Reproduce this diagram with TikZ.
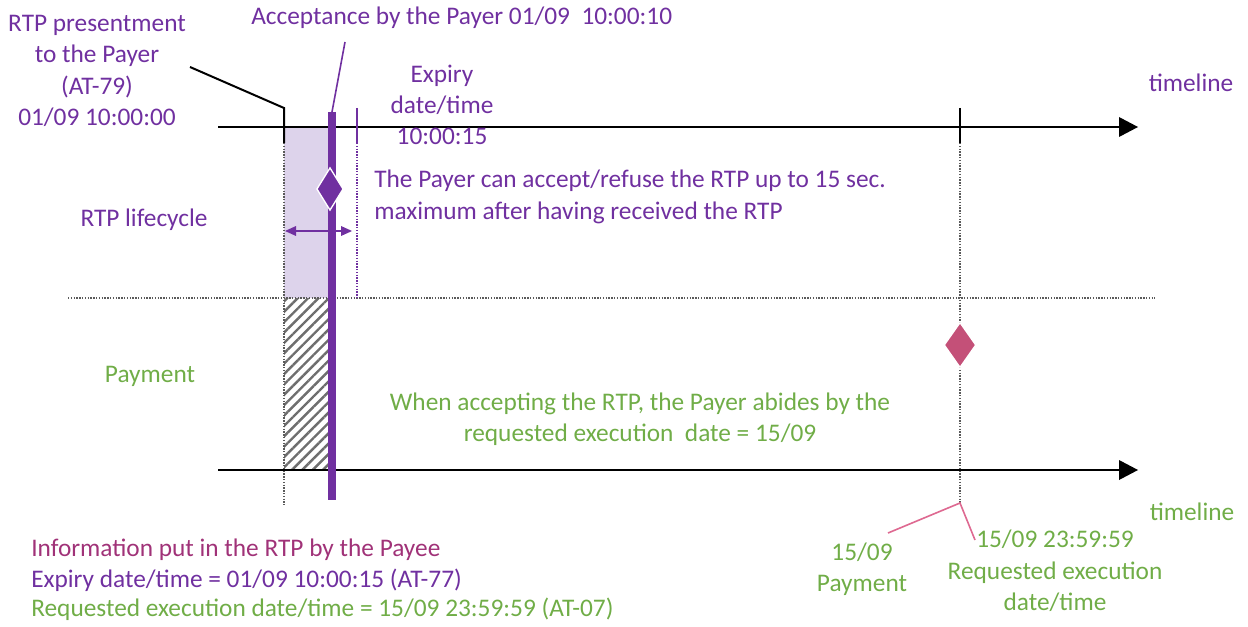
\documentclass[tikz,border=0pt]{standalone}
\usepackage{fontspec}
\setmainfont{Carlito}
\usetikzlibrary{patterns.meta}
\usetikzlibrary{shapes}

\begin{document}
\begin{tikzpicture}[x=0.75pt,y=0.75pt,yscale=-1,xscale=1,
  txt/.style={inner sep=0.75pt, align=center, font=\fontsize{19}{23.5}\selectfont},
  infotxt/.style={inner sep=0.75pt, anchor=west, font=\fontsize{19}{23.5}\selectfont},
  violet/.style={color={rgb, 255:red, 112; green, 48; blue, 160 }},
  leaf/.style={color={rgb, 255:red, 112; green, 173; blue, 71 }},
  plum/.style={color={rgb, 255:red, 160; green, 50; blue, 120 }},
  gridline/.style={color={rgb, 255:red, 90; green, 90; blue, 90 }, densely dotted, line width=1.1},
  tick/.style={line width=1.5},
  gem/.style={diamond, inner sep=0pt, draw=white, line width=1}]
\useasboundingbox (0,0) rectangle (1248,627);

%Shaded lifecycle window
\fill [color={rgb, 255:red, 221; green, 211; blue, 235 }] (284,127) rectangle (330,298) ;
%Hatched window
\fill [pattern={Lines[angle=45,distance=5.5pt,line width=1.8pt]}, pattern color={rgb, 255:red, 110; green, 110; blue, 110 }] (284,298) rectangle (330,470) ;

%Coordinates
\coordinate (tlTopA) at (218,127);
\coordinate (tlTopB) at (1138,127);
\coordinate (tlBotA) at (218,470);
\coordinate (tlBotB) at (1138,470);
\coordinate (sepA) at (68,298);
\coordinate (sepB) at (1155,298);
\coordinate (presTop) at (284,108);
\coordinate (presMid) at (284,143);
\coordinate (presEnd) at (284,505);
\coordinate (accTop) at (332,112);
\coordinate (accEnd) at (332,500);
\coordinate (expTop) at (357,108);
\coordinate (expMid) at (357,143);
\coordinate (expEnd) at (357,298);
\coordinate (reqTop) at (960,108);
\coordinate (reqMid) at (960,143);
\coordinate (reqEnd) at (960,503);

%Straight Lines (timelines)
\draw [tick]   (tlTopA) -- (1122,127) ;
\draw [shift={(tlTopB)}, rotate = 180] [fill=black][draw opacity=0] (19,-10) -- (0,0) -- (19,10) -- cycle    ;
\draw [tick]   (tlBotA) -- (1122,470) ;
\draw [shift={(tlBotB)}, rotate = 180] [fill=black][draw opacity=0] (19,-10) -- (0,0) -- (19,10) -- cycle    ;
%Separator
\draw [gridline]   (sepA) -- (sepB) ;

%Presentment marker
\draw [tick]   (190,67) -- (presTop) -- (presMid) ;
\draw [gridline]   (presMid) -- (presEnd) ;
%Expiry marker
\draw [violet, line width=1.2]   (expTop) -- (expMid) ;
\draw [violet, densely dotted, line width=1.1]   (expMid) -- (expEnd) ;
%Requested execution marker
\draw [tick]   (reqTop) -- (reqMid) ;
\draw [gridline]   (reqMid) -- (reqEnd) ;
\draw [color={rgb, 255:red, 222; green, 105; blue, 145 }, line width=1.2]   (888,533) -- (reqEnd) -- (975,540) ;

%Acceptance bar
\draw [violet, line width=1.2]   (345,42) -- (accTop) ;
\draw [violet, line width=6]   (accTop) -- (accEnd) ;

%Double arrow 15 sec.
\draw [violet, line width=1.2]   (293,231) -- (344,231) ;
\draw [shift={(285,231)}, rotate = 0] [violet, fill={rgb, 255:red, 112; green, 48; blue, 160 }][draw opacity=0] (11,-5) -- (0,0) -- (11,5) -- cycle    ;
\draw [shift={(352,231)}, rotate = 180] [violet, fill={rgb, 255:red, 112; green, 48; blue, 160 }][draw opacity=0] (11,-5) -- (0,0) -- (11,5) -- cycle    ;

%Diamonds
\node [gem, fill={rgb, 255:red, 112; green, 48; blue, 160 }, minimum width=20pt, minimum height=32pt] (accGem) at (330,189) {};
\node [gem, fill={rgb, 255:red, 196; green, 80; blue, 120 }, minimum width=24pt, minimum height=34pt] (payGem) at (960,345) {};

% Text Node
\node [txt, violet] (presLbl) at (97,71) {RTP presentment\\to the Payer\\(AT-79)\\01/09 10:00:00};
% Text Node
\node [txt, violet, anchor=west] (accLbl) at (250,18) {Acceptance by the Payer 01/09\ \ 10:00:10};
% Text Node
\node [txt, violet] (expLbl) at (442,105) {Expiry\\date/time\\10:00:15};
% Text Node
\node [txt, violet] (tlTopLbl) at (1191,83) {timeline};
% Text Node
\node [txt, violet] (lifeLbl) at (144,220) {RTP lifecycle};
% Text Node
\node [txt, violet, anchor=west, align=left] (secLbl) at (373,197) {The Payer can accept/refuse the RTP up to 15 sec.\\maximum after having received the RTP};
% Text Node
\node [txt, leaf] (payLbl) at (150,376) {Payment};
% Text Node
\node [txt, leaf] (whenLbl) at (640,419) {When accepting the RTP, the Payer abides by the\\requested execution\ \ date = 15/09};
% Text Node
\node [txt, leaf] (tlBotLbl) at (1192,512) {timeline};
% Text Node
\node [txt, leaf] (payDateLbl) at (862,569) {15/09\\Payment};
% Text Node
\node [txt, leaf] (reqLbl) at (1055,571) {15/09 23:59:59\\Requested execution\\date/time};
% Text Node
\node [infotxt, plum] (infoLbl) at (30,550) {Information put in the RTP by the Payee};
% Text Node
\node [infotxt, violet] (infoExp) at (30,580) {Expiry date/time = 01/09 10:00:15 (AT-77)};
% Text Node
\node [infotxt, leaf] (infoReq) at (30,609) {Requested execution date/time = 15/09 23:59:59 (AT-07)};

\end{tikzpicture}
\end{document}
